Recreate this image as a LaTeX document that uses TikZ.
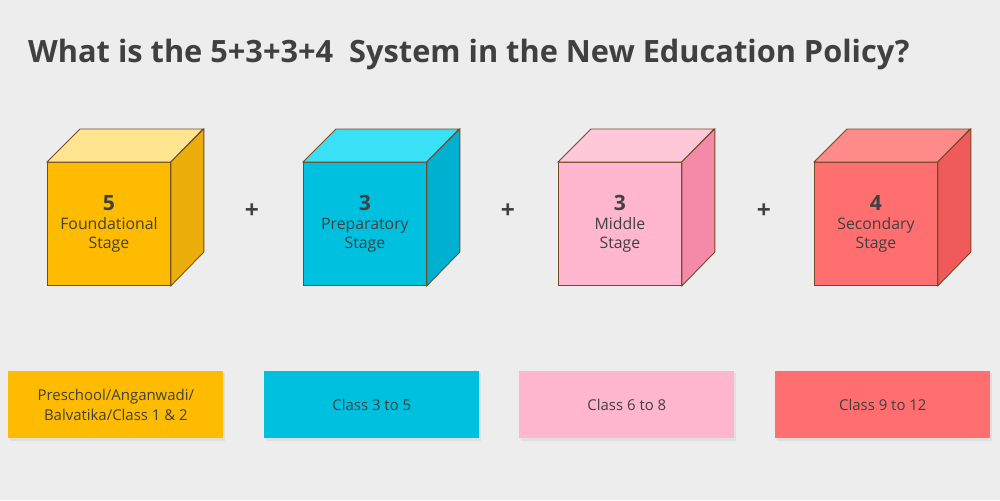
\documentclass[tikz,border=0pt]{standalone}
\usepackage{fontspec}
\setmainfont{Open Sans}
\usetikzlibrary{positioning}
\definecolor{bg}{HTML}{EDEDED}
\definecolor{ink}{HTML}{404040}
\definecolor{yfront}{HTML}{FFBB00}\definecolor{ytop}{HTML}{FFE58F}\definecolor{yside}{HTML}{EBAE0A}
\definecolor{bfront}{HTML}{00C0E0}\definecolor{btop}{HTML}{3AE0F5}\definecolor{bside}{HTML}{00B0D0}
\definecolor{pfront}{HTML}{FFB6CE}\definecolor{ptop}{HTML}{FFC8D8}\definecolor{pside}{HTML}{F589A8}
\definecolor{rfront}{HTML}{FF6F6F}\definecolor{rtop}{HTML}{FF8A8A}\definecolor{rside}{HTML}{F05A5A}
\tikzset{
  face/.style={draw=brown!60!black, line width=0.5pt},
  front/.style={face, minimum width=2.46cm, minimum height=2.46cm, inner sep=0pt,
    align=center, text=ink, font=\fontsize{9}{11}\selectfont},
  classbox/.style={minimum width=4.3cm, minimum height=1.34cm, inner sep=0pt,
    align=center, text=ink, font=\fontsize{8.5}{11}\selectfont},
  plus/.style={text=ink, font=\fontsize{14}{14}\selectfont\bfseries}
}
\begin{document}
\begin{tikzpicture}[x=0.02cm, y=-0.02cm]
  \fill[bg] (0,0) rectangle (1000,500);
  \useasboundingbox (0,0) rectangle (1000,500);
  \node[anchor=west, text=ink, font=\fontsize{17.5}{20}\selectfont\bfseries] (title) at (22,55)
    {What is the 5+3+3+4\ \ System in the New Education Policy?};
  % cubes and class boxes
  \foreach \x/\c/\num/\stage/\cls [count=\i] in
    {47/y/5/Foundational/{Preschool/Anganwadi/\\Balvatika/Class 1 \& 2},
     303/b/3/Preparatory/Class 3 to 5,
     558/p/3/Middle/Class 6 to 8,
     814/r/4/Secondary/Class 9 to 12}{
    \node[front, fill=\c front, anchor=north west] (cube\i) at (\x,162)
      {{\fontsize{12}{14}\selectfont\bfseries \num}\\\stage\\Stage};
    \draw[face, fill=\c top] (cube\i.north west) -- ++(33,-33) -- ++(123,0)
      -- (cube\i.north east) -- cycle;
    \draw[face, fill=\c side] (cube\i.north east) -- ++(33,-33) -- ++(0,123)
      -- (cube\i.south east) -- cycle;
    \fill[black!12] (\x-37,373) rectangle (\x+178,441);
    \node[classbox, fill=\c front, anchor=north west] (class\i) at (\x-39,371) {\cls};
  }
  \foreach \x [count=\i] in {252,508,764}{
    \node[plus] (plus\i) at (\x,211) {+};
  }
\end{tikzpicture}
\end{document}
